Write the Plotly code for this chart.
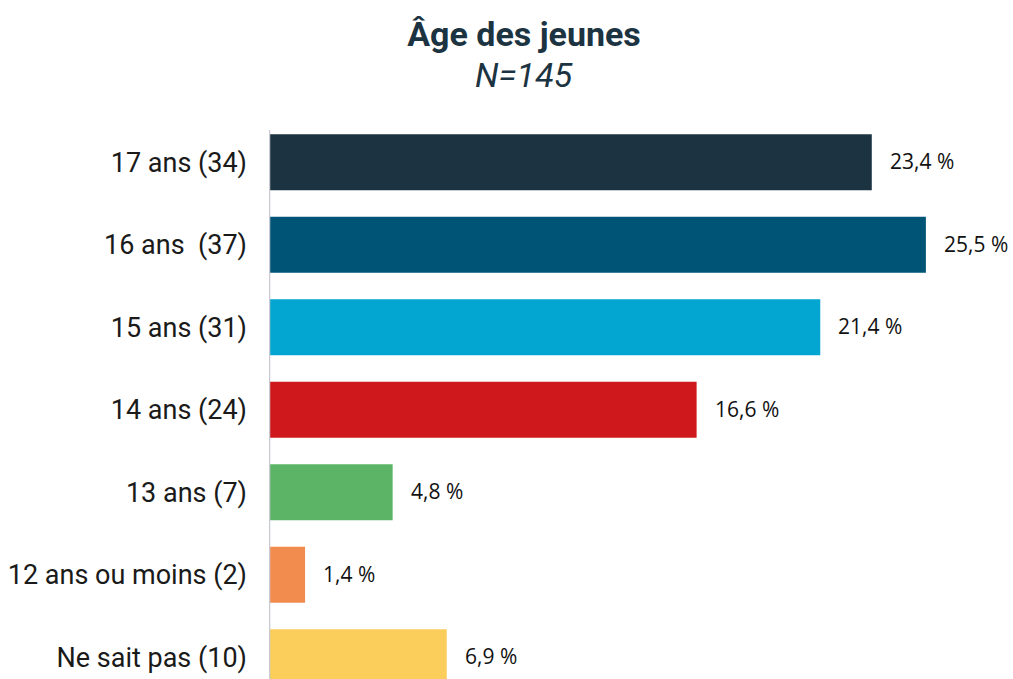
import plotly.graph_objects as go

categories = ["17 ans (34)", "16 ans\u00a0 (37)", "15 ans (31)", "14 ans (24)",
              "13 ans (7)", "12 ans ou moins (2)", "Ne sait pas (10)"]
values = [23.4, 25.5, 21.4, 16.6, 4.8, 1.4, 6.9]
value_labels = ["23,4 %", "25,5 %", "21,4 %", "16,6 %", "4,8 %", "1,4 %", "6,9 %"]
colors = ["#1c3341", "#005577", "#02a6d0", "#cf181b", "#5cb566", "#f28c4e", "#fbcd5a"]

W, H = 1013, 679
L, T, R = 269, 121, 5
plot_w = W - L - R
plot_h = H - T

fig = go.Figure()
fig.add_trace(go.Bar(
    x=values, y=categories, orientation="h",
    marker=dict(color=colors, line=dict(width=0)),
    width=0.68, hoverinfo="skip",
))

for v, c, t in zip(values, categories, value_labels):
    fig.add_annotation(x=v, y=c, text=t, xref="x", yref="y",
                       xanchor="left", yanchor="middle", xshift=16, yshift=1,
                       showarrow=False,
                       font=dict(family="Open Sans", size=21, color="#111111"))

fig.add_annotation(text="<i>N=145</i>", xref="paper", yref="paper",
                   x=(524 - L) / plot_w, y=(H - 75) / plot_h,
                   xanchor="center", yanchor="middle", showarrow=False,
                   font=dict(family="Roboto", size=34, color="#1c3341"))

fig.add_shape(type="line", xref="x", yref="paper", x0=0, x1=0, y0=0, y1=0.984,
              line=dict(color="#c9c9d3", width=2.5), layer="above")

fig.update_layout(
    width=W, height=H,
    margin=dict(l=L, r=R, t=T, b=0),
    paper_bgcolor="white", plot_bgcolor="white",
    showlegend=False,
    title=dict(text="<b>Âge des jeunes</b>", x=524 / W, xanchor="center",
               xref="container", yref="container", y=1 - 34 / H, yanchor="middle",
               font=dict(family="Roboto", size=34, color="#1c3341")),
    xaxis=dict(range=[0, plot_w / 25.76], showgrid=False, zeroline=False,
               showticklabels=False, showline=False, fixedrange=True),
    yaxis=dict(type="category", categoryorder="array", categoryarray=categories,
               range=[-0.5 + plot_h / 82.5, -0.5], showgrid=False, zeroline=False,
               showline=False, ticks="", ticklabelstandoff=21, fixedrange=True,
               tickfont=dict(family="Roboto", size=27, color="#1a1a1a")),
)

fig.write_html("out.html",
               config={"displayModeBar": False},
               post_script="document.body.style.margin='0';"
                           "document.body.style.overflow='hidden';")
